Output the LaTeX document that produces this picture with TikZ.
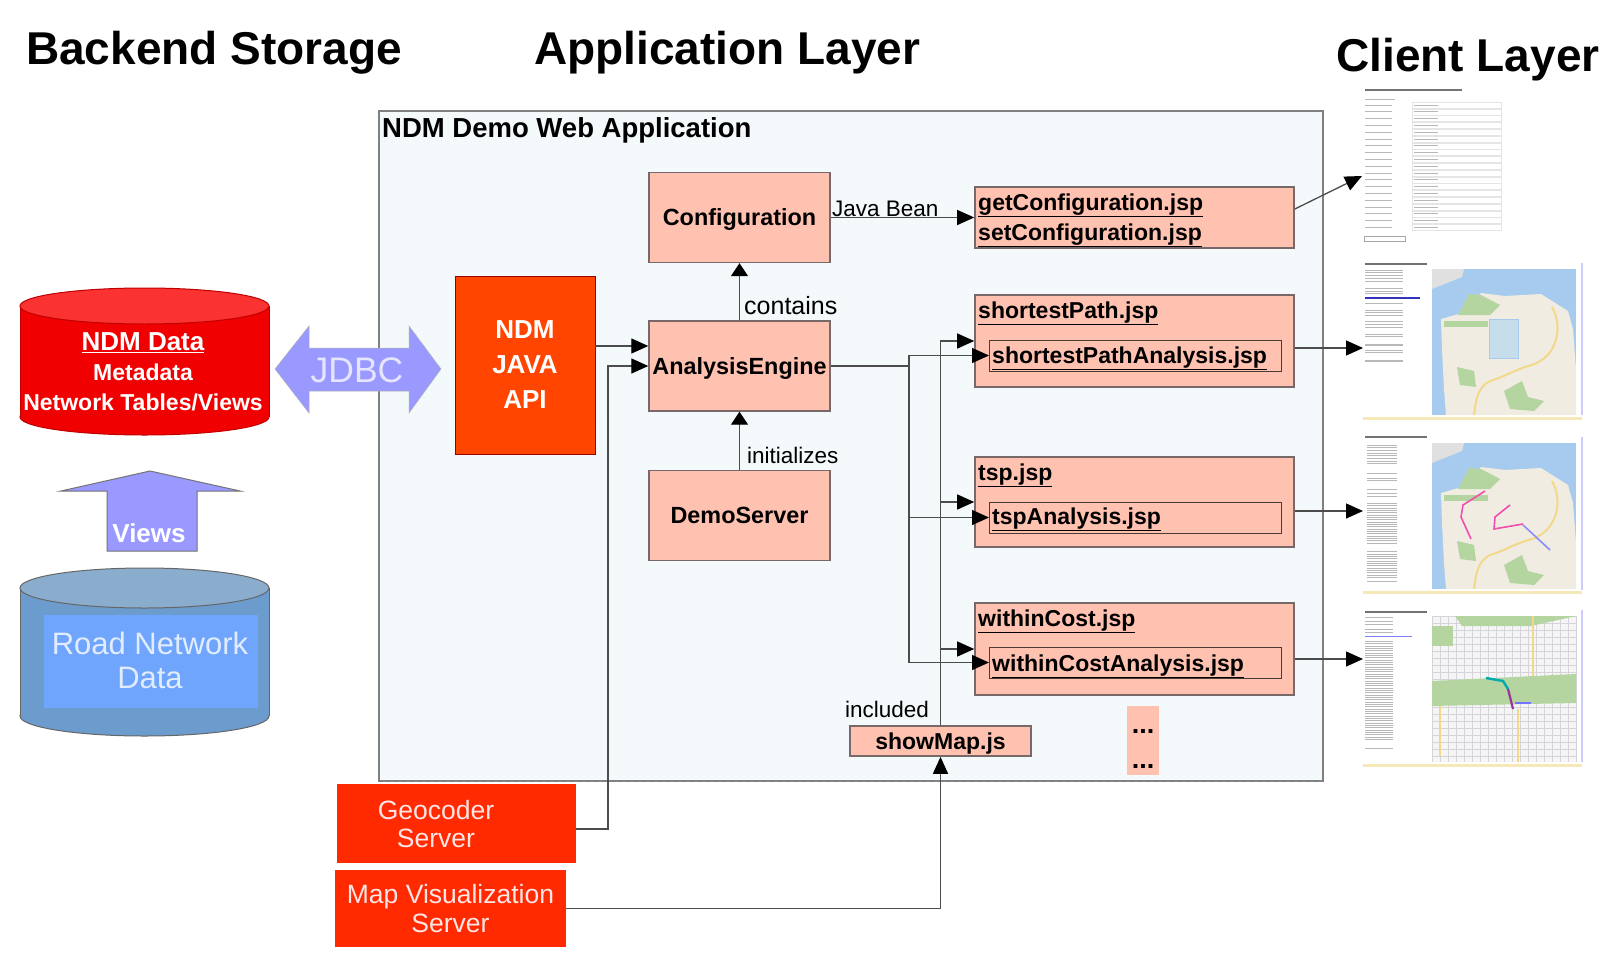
\documentclass[tikz,border=0pt]{standalone}
\usepackage{fontspec}
\setmainfont{Liberation Sans}
\usetikzlibrary{arrows.meta,patterns.meta}

\definecolor{salmonfill}{HTML}{FFC1B0}
\definecolor{boxedge}{HTML}{77696A}
\definecolor{framefill}{HTML}{F4FAFC}
\definecolor{water}{HTML}{A6CBEE}
\definecolor{land}{HTML}{F0ECE2}
\definecolor{park}{HTML}{B5D5A0}
\definecolor{road}{HTML}{F2D98A}
\definecolor{street}{HTML}{D4D4DA}
\definecolor{serverred}{HTML}{FF2A00}
\definecolor{apired}{HTML}{FF4500}
\definecolor{arrowblue}{HTML}{9999FF}
\definecolor{drumred}{HTML}{F00000}
\definecolor{drumredtop}{HTML}{FA3232}
\definecolor{drumblue}{HTML}{6C9CCD}
\definecolor{drumbluetop}{HTML}{8AADCE}
\definecolor{patchblue}{HTML}{6FA5FC}
\definecolor{patchtext}{HTML}{E1ECFF}
\definecolor{searcharea}{HTML}{C6DDEC}

\newcommand{\fs}[1]{\fontsize{#1}{#1}\selectfont}
% #1 top axis y, #2 bottom axis y, #3 ellipse y radius, #4 body, #5 lid, #6 edge
\newcommand{\drumbody}[6]{
  \filldraw[draw=#6,line width=1pt,fill=#4] (144.5,#2) ellipse [x radius=124.5,y radius=#3];
  \fill[#4] (20,#1) rectangle (269,#2);
  \draw[#6,line width=1pt] (20,#1) -- (20,#2) (269,#1) -- (269,#2);
  \filldraw[draw=#6,line width=1pt,fill=#5] (144.5,#1) ellipse [x radius=124.5,y radius=#3];
}

\tikzset{
  heading/.style={font=\bfseries\fs{46},anchor=base west,inner sep=0pt},
  compbox/.style={draw=boxedge,line width=1.4pt,fill=salmonfill,inner sep=0pt,
    minimum width=181pt,minimum height=90pt,font=\bfseries\fs{23.4},
    text height=16pt,text depth=0pt},
  filebox/.style={draw=boxedge,line width=1.6pt,fill=salmonfill,inner sep=0pt,
    minimum width=319pt},
  innerbox/.style={draw=black!70!salmonfill,line width=1pt,fill=salmonfill,inner sep=0pt,
    minimum width=291.5pt,minimum height=31pt},
  filename/.style={font=\bfseries\fs{23},anchor=base west,inner sep=0pt},
  lbl/.style={font=\fs{22.5},anchor=base west,inner sep=0pt},
  redbox/.style={inner sep=0pt,fill=serverred},
  srvtext/.style={font=\fs{26.5},align=center,text=white!90!red,inner sep=0pt},
  flow/.style={draw=black!70,line width=1.3pt,
    -{Triangle[length=17pt,width=15pt,color=black]}},
  rise/.style={draw=black!70,line width=1.3pt,
    -{Triangle[length=13pt,width=17pt,color=black]}},
  plain/.style={draw=black!70,line width=1.3pt},
  rowline/.style={draw=black!28,line width=.9pt},
  rowdark/.style={draw=black!55,line width=1.6pt},
  citymap/.pic={
    \fill[water] (0,0) rectangle (144,146);
    \fill[black!12] (0,0) -- (32,0) -- (30,8) -- (0,20) -- cycle;
    \fill[land] (49,24) -- (73,27) -- (109,25) -- (136,42) -- (141,60) -- (144,100)
      -- (144,146) -- (14,146) -- (12,120) -- (10,80) -- (9,50) -- (30,44) -- cycle;
    \fill[park] (37,25) -- (49,26) -- (68,36) -- (58,46) -- (26,46) -- cycle;
    \fill[park] (12,52) -- (56,52) -- (56,58) -- (12,58) -- cycle;
    \fill[park] (25,98) -- (42,102) -- (44,118) -- (28,116) -- cycle;
    \fill[park] (72,122) -- (90,112) -- (96,128) -- (112,132) -- (102,142) -- (78,140) -- cycle;
    \draw[road,line width=2pt] (120,38) .. controls (132,60) and (124,88) .. (100,96)
      .. controls (84,100) and (72,108) .. (58,112) .. controls (46,118) and (44,130) .. (42,146);
  },
}

\begin{document}
\begin{tikzpicture}[x=1pt,y=-1pt]

\useasboundingbox (0,0) rectangle (1622,958);

\node[heading] (backendtitle) at (26,65) {Backend Storage};
\node[heading] (apptitle) at (534,65) {Application Layer};
\node[heading] (clienttitle) at (1336,71) {Client Layer};

% web application frame
\filldraw[draw=black!50,line width=1.6pt,fill=framefill,
  postaction={pattern={Dots[radius=.5pt,distance=8pt]},pattern color=black!12}]
  (379,111) rectangle (1323,781);
\node[font=\bfseries\fs{27.5},anchor=base west,inner sep=0pt] (apptag) at (382,137) {NDM Demo Web Application};

% backend
\drumbody{306}{417}{18}{drumred}{drumredtop}{red!75!black}
\node[font=\bfseries\fs{23},align=center,text=white,inner sep=0pt] (ndmtext) at (143,372)
  {\fs{26}\underline{NDM Data}\\[7pt]Metadata\\[7pt]Network Tables/Views};
\drumbody{588}{716}{20}{drumblue}{drumbluetop}{black!60}
\node[fill=patchblue,minimum width=214pt,minimum height=93pt,inner sep=0pt] (roadpatch) at (151,661.5) {};
\node[font=\fs{31},align=center,text=patchtext,inner sep=0pt] (roadtext) at (150,660)
  {Road Network\\[3pt]Data};

\filldraw[draw=black!55,line width=1pt,fill=arrowblue]
  (150,471) -- (240,491) -- (197,491) -- (197,551) -- (107,551) -- (107,491) -- (61,491) -- cycle;
\node[font=\bfseries\fs{26},text=white,inner sep=0pt] (viewstext) at (149,533) {Views};

% api and core classes
\node[fill=apired,draw=red!60!black,line width=.6pt,minimum width=140pt,minimum height=178pt,
  font=\bfseries\fs{26},align=center,text=white,inner sep=0pt] (api) at (525,365) {NDM\\[9pt]JAVA\\[9pt]API};
\node[compbox] (config) at (739.5,217.5) {Configuration};
\node[compbox] (engine) at (739.5,366) {AnalysisEngine};
\node[compbox] (demo) at (739.5,515.5) {DemoServer};

% jsp pages
\node[filebox,minimum height=61pt] (getconf) at (1134.5,217.5) {};
\node[filename] (getname) at (978,210) {\underline{getConfiguration.jsp}};
\node[filename] (setname) at (978,240) {\underline{setConfiguration.jsp}};

\node[filebox,minimum height=92pt] (shortest) at (1134.5,341) {};
\node[filename] (shortname) at (978,318) {\underline{shortestPath.jsp}};
\node[innerbox] (shortinner) at (1135.25,355.5) {};
\node[filename] (shortinname) at (992,363) {\underline{shortestPathAnalysis.jsp}};

\node[filebox,minimum height=90pt] (tsp) at (1134.5,502) {};
\node[filename] (tspname) at (978,480) {\underline{tsp.jsp}};
\node[innerbox] (tspinner) at (1135.25,517.5) {};
\node[filename] (tspinname) at (992,524) {\underline{tspAnalysis.jsp}};

\node[filebox,minimum height=92pt] (within) at (1134.5,649) {};
\node[filename] (withinname) at (978,626) {\underline{withinCost.jsp}};
\node[innerbox] (withininner) at (1135.25,662.5) {};
\node[filename] (withininname) at (992,671) {\underline{withinCostAnalysis.jsp}};

\node[filebox,minimum width=181pt,minimum height=30pt,font=\bfseries\fs{23},
  text height=16pt,text depth=0pt] (showmap) at (940.5,741) {showMap.js};
\node[fill=salmonfill,minimum width=32pt,minimum height=69pt,inner sep=0pt] (more) at (1143,740.5) {};
\node[font=\bfseries\fs{27},align=center,inner sep=0pt] (moretext) at (1143,749) {...\\[8pt]...};

% external servers
\node[redbox,minimum width=239pt,minimum height=79pt] (geo) at (456.5,823.5) {};
\node[srvtext] (geotext) at (436,824) {Geocoder\\[2pt]Server};
\node[redbox,minimum width=231pt,minimum height=77pt,
  srvtext,inner sep=0pt] (mapsrv) at (450.5,908.5) {Map Visualization\\[2pt]Server};

% connectors
\coordinate (geobus) at (608,600);
\coordinate (bus) at (909,366);
\coordinate (clientcfg) at (1362,176);
\coordinate (clientshort) at (1363,348);
\coordinate (clienttsp) at (1363,511);
\coordinate (clientwithin) at (1363,659);

\draw[flow] ([yshift=20pt]engine.west -| api.east) -- ([yshift=20pt]engine.west);
\draw[flow] ([yshift=-5.5pt]geo.east) -| (geobus) |- (engine.west);
\draw[flow] (mapsrv.east) -| (showmap.south);
\draw[rise] (engine.north) -- (config.south);
\draw[rise] (demo.north) -- (engine.south);
\draw[flow] (config.east) -- (getconf.west);

\draw[plain] (engine.east) -- (bus);
\draw[flow] (bus) |- (shortinner.west);
\draw[flow] (bus) |- (tspinner.west);
\draw[flow] (bus) |- (withininner.west);
\draw[flow] (showmap.north) |- (shortest.west);
\draw[flow] (showmap.north) |- (tsp.west);
\draw[flow] (showmap.north) |- (within.west);

\draw[flow] ([yshift=8.5pt]getconf.east) -- (clientcfg);
\draw[flow] (clientshort -| shortest.east) -- (clientshort);
\draw[flow] (clienttsp -| tsp.east) -- (clienttsp);
\draw[flow] (clientwithin -| within.east) -- (clientwithin);

\node[lbl] (beanlabel) at (832,216) {Java Bean};
\node[lbl,font=\fs{25}] (containslabel) at (744,314) {contains};
\node[lbl] (initlabel) at (747,463) {initializes};
\node[lbl] (includedlabel) at (845,717) {included};

% jdbc link
\filldraw[draw=black!30,line width=.5pt,fill=arrowblue]
  (275,369) -- (309,326) -- (309,348) -- (409,348) -- (409,326) -- (441,369)
  -- (409,413) -- (409,391) -- (309,391) -- (309,413) -- cycle;
\node[font=\fs{35.5},text=white!90!blue,inner sep=0pt] (jdbctext) at (357,370) {JDBC};

% client screenshots
\draw[rowdark] (1365,90) -- (1462,90);
\draw[rowline] (1365,99) -- (1395,99);
\foreach \r in {0,...,18} {
  \draw[black!10,line width=.6pt] (1412,{102+6.8*\r}) rectangle (1501,{108+6.8*\r});
  \draw[rowline] (1365,{105+6.8*\r}) -- (1392,{105+6.8*\r});
  \draw[rowline] (1414,{105+6.8*\r}) -- (1438,{105+6.8*\r});
}
\draw[black!35,line width=.8pt] (1364,236) rectangle (1405,241);

\draw[rowdark] (1365,264) -- (1427,264);
\foreach \r in {45,52,60,70,80,100,108,115,145,165,172,182,200,207,218,238,245,268,272,285,292,315,320}
  \draw[rowline] (1365,{255+\r/3}) -- (1403,{255+\r/3});
\draw[blue!70!black!80,line width=2pt] (1365,298) -- (1420,298);
\path pic at (1432,269) {citymap};
\filldraw[fill=searcharea,draw=water] (1489,319) rectangle (1518,358);
\fill[road!60] (1363,417) rectangle (1582,420);
\draw[blue!20,line width=1.2pt] (1582,263) -- (1582,415);

\draw[rowdark] (1365,437) -- (1427,437);
\foreach \r in {45,53,...,101,130,145,152,178,190,200,220,227,...,345,365,372,...,442,455}
  \draw[rowline] (1367,{430+\r/3}) -- (1397,{430+\r/3});
\path pic at (1432,443) {citymap};
\draw[magenta!70,line width=1.6pt] (1485,491) -- (1463,505) -- (1461,517) -- (1471,539);
\draw[magenta!70,line width=1.6pt] (1510,505) -- (1495,517) -- (1494,529) -- (1523,524);
\draw[blue!45,line width=1.6pt] (1523,525) -- (1550,550);
\fill[road!60] (1363,591) rectangle (1582,594);
\draw[blue!20,line width=1.2pt] (1582,437) -- (1582,590);

\draw[rowdark] (1365,612) -- (1427,612);
\foreach \r in {43,55,65,78,88,115,122,...,415,435}
  \draw[rowline] (1365,{603+\r/3}) -- (1393,{603+\r/3});
\draw[blue!50,line width=1pt] (1365,636) -- (1412,636);
\fill[black!4] (1432,616) rectangle (1576,762);
\foreach \r in {0,8,...,144} \draw[street,line width=.5pt] ({1432+\r},616) -- ({1432+\r},762);
\foreach \r in {0,7,...,146} \draw[street,line width=.5pt] (1432,{616+\r}) -- (1576,{616+\r});
\fill[park] (1432,681) -- (1576,674) -- (1576,703) -- (1432,706) -- cycle;
\fill[park] (1432,626) rectangle (1453,646);
\fill[park] (1455,616) -- (1576,616) -- (1531,626) -- (1462,626) -- cycle;
\draw[road,line width=2.4pt] (1533,616) -- (1533,676);
\draw[road,line width=2.4pt] (1518,709) -- (1518,762);
\draw[road,line width=2pt] (1440,706) -- (1440,756);
\draw[cyan!60!green,line width=2.4pt] (1486,678) -- (1503,681) -- (1508,689);
\draw[violet!80,line width=2.2pt] (1508,689) -- (1513,709);
\draw[blue!55,line width=2pt] (1515,703) -- (1531,703);
\fill[road!60] (1363,764) rectangle (1582,767);
\draw[blue!20,line width=1.2pt] (1582,610) -- (1582,762);

\end{tikzpicture}
\end{document}
